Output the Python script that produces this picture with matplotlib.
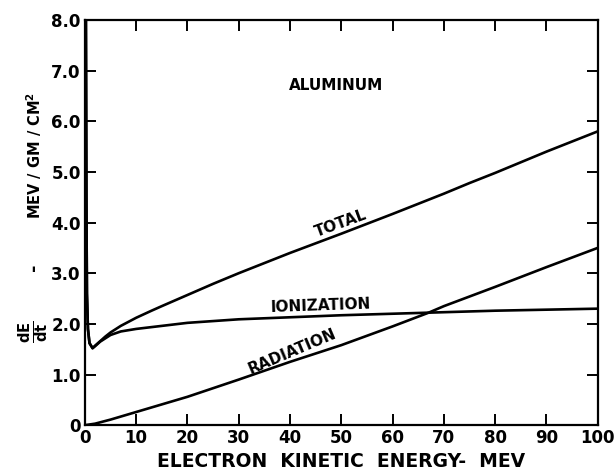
import matplotlib.pyplot as plt
import numpy as np

plt.rcParams['font.family'] = 'DejaVu Sans'
plt.rcParams['font.weight'] = 'bold'

# energy (MeV) vs stopping power (MeV/gm/cm^2)
e_ion = [0.2, 0.3, 0.4, 0.6, 0.9, 1.5, 2, 3, 5, 7, 10, 15, 20, 30, 40, 50, 60, 70, 80, 90, 100]
ionization = [8.0, 4.5, 2.6, 1.9, 1.62, 1.52, 1.56, 1.65, 1.78, 1.85, 1.9, 1.96, 2.02, 2.09, 2.13,
              2.17, 2.2, 2.23, 2.26, 2.28, 2.3]

e_tot = [0.2, 0.3, 0.4, 0.6, 0.9, 1.5, 2, 3, 4, 5, 7, 10, 13, 15, 20, 25, 30, 40, 50, 60, 70, 75, 80, 90, 100]
total = [8.0, 4.5, 2.6, 1.9, 1.62, 1.52, 1.57, 1.66, 1.75, 1.83, 1.96, 2.12, 2.26, 2.35, 2.57, 2.79,
         3.0, 3.4, 3.78, 4.17, 4.57, 4.78, 4.98, 5.4, 5.8]

e_rad = [0, 2, 5, 10, 20, 30, 40, 50, 60, 67, 70, 80, 90, 100]
radiation = [0, 0.03, 0.11, 0.26, 0.56, 0.9, 1.25, 1.58, 1.95, 2.22, 2.35, 2.73, 3.12, 3.5]

xticks = [0, 10, 20, 30, 40, 50, 60, 70, 80, 90, 100]
yticks = [0, 1, 2, 3, 4, 5, 6, 7, 8]
ylabels = ['0', '1.0', '2.0', '3.0', '4.0', '5.0', '6.0', '7.0', '8.0']

fig = plt.figure(figsize=(6.15, 4.74), dpi=100)
ax = fig.add_axes([0.138, 0.103, 0.834, 0.855])

lw = 1.9
ax.plot(e_ion, ionization, 'k-', lw=lw)
ax.plot(e_tot, total, 'k-', lw=lw)
ax.plot(e_rad, radiation, 'k-', lw=lw)

ax.set_xlim(0, 100)
ax.set_ylim(0, 8)
ax.set_xticks(xticks)
ax.set_xticklabels([str(t) for t in xticks])
ax.set_yticks(yticks)
ax.set_yticklabels(ylabels)
ax.tick_params(direction='in', length=8, width=1.4, top=True, right=True,
               labelsize=12, pad=3)
for lab in ax.get_xticklabels() + ax.get_yticklabels():
    lab.set_fontweight('bold')
for s in ax.spines.values():
    s.set_linewidth(1.6)

# curve labels
ax.text(49, 6.7, 'ALUMINUM', fontsize=11, fontweight='bold', ha='center', va='center')
ax.text(50, 3.98, 'TOTAL', fontsize=11, fontweight='bold', ha='center', va='center', rotation=20)
ax.text(46, 2.36, 'IONIZATION', fontsize=11, fontweight='bold', ha='center', va='center', rotation=2)
ax.text(40.5, 1.45, 'RADIATION', fontsize=11, fontweight='bold', ha='center', va='center', rotation=23)

ax.set_xlabel('ELECTRON  KINETIC  ENERGY-  MEV', fontsize=13.5, fontweight='bold', labelpad=3)

# y label: dE/dt  -  MEV / GM / CM^2
fig.text(0.055, 0.30, r'$\mathbf{\frac{dE}{dt}}$', fontsize=15, rotation=90, ha='center', va='center')
fig.text(0.055, 0.437, '-', fontsize=13, fontweight='bold', rotation=90, ha='center', va='center')
fig.text(0.055, 0.673, 'MEV / GM / CM$^\\mathbf{2}$', fontsize=10.5, fontweight='bold',
         rotation=90, ha='center', va='center')

fig.savefig('out.png', dpi=100)
